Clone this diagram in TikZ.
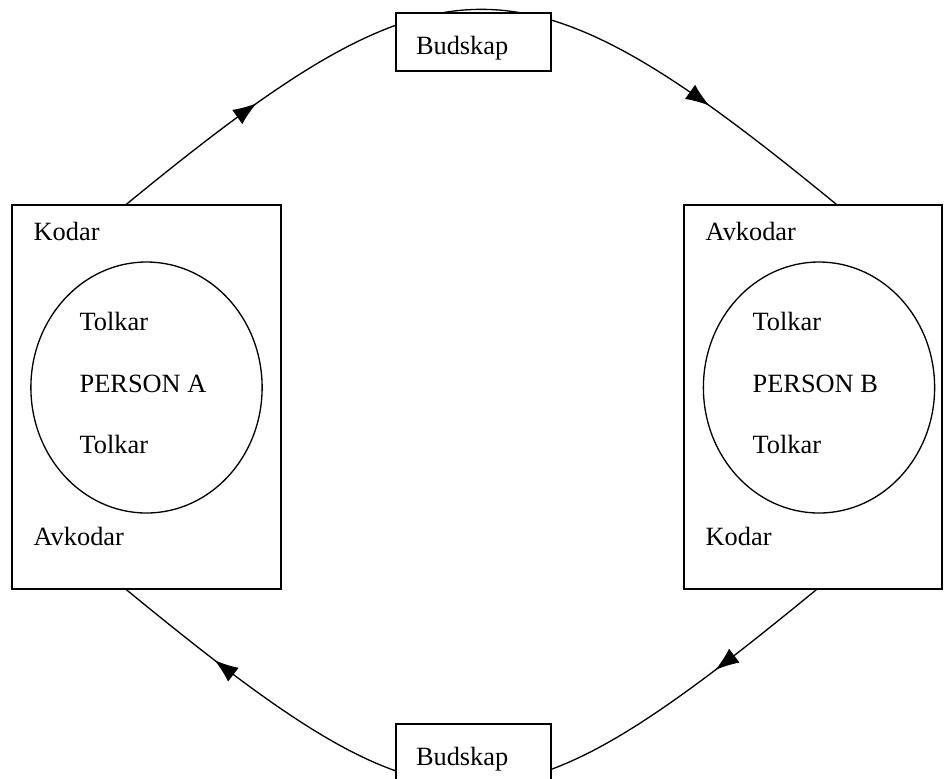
\documentclass[tikz,border=0pt]{standalone}
\usepackage{fontspec}
\setmainfont{Liberation Serif}
\usepackage{tikz}
\usetikzlibrary{arrows.meta,calc,decorations.markings,shapes.geometric}

\begin{document}
\begin{tikzpicture}[font=\fontsize{12pt}{14pt}\selectfont, line width=0.6pt,
  ram/.style={draw, rectangle, inner sep=0pt, minimum height=6.144cm},
  huvud/.style={draw, ellipse, inner sep=0pt, minimum width=3.7cm, minimum height=4.016cm},
  ord/.style={anchor=base west, inner sep=0pt},
  budbox/.style={draw, fill=white, text width=1.84cm, inner xsep=0.32cm, inner ysep=0pt, minimum height=0.928cm, text height=0.4cm, text depth=0pt, align=left},
  spets/.tip={Latex[length=0.38cm,width=0.28cm]},
  flode/.style 2 args={postaction={decorate}, decoration={markings,
    mark=at position #1 with {\arrow{spets}},
    mark=at position #2 with {\arrow{spets}}}}]
\useasboundingbox (0cm,0cm) rectangle (15.104cm,-12.448cm);
\node[ram, minimum width=4.304cm] (boxA) at (2.344cm,-6.352cm) {};
\node[ram, minimum width=4.128cm] (boxB) at (13.008cm,-6.352cm) {};
\node[huvud] (personA) at (2.344cm,-6.2cm) {};
\node[huvud] (personB) at (13.104cm,-6.2cm) {};
\node[ord] (kodA) at (0.528cm,-3.84cm) {Kodar};
\node[ord] (tolkA1) at (1.264cm,-5.28cm) {Tolkar};
\node[ord] (namnA) at (1.264cm,-6.272cm) {PERSON A};
\node[ord] (tolkA2) at (1.264cm,-7.248cm) {Tolkar};
\node[ord] (avkodA) at (0.528cm,-8.72cm) {Avkodar};
\node[ord] (avkodB) at (11.28cm,-3.84cm) {Avkodar};
\node[ord] (tolkB1) at (12.032cm,-5.28cm) {Tolkar};
\node[ord] (namnB) at (12.032cm,-6.272cm) {PERSON B};
\node[ord] (tolkB2) at (12.032cm,-7.248cm) {Tolkar};
\node[ord] (kodB) at (11.28cm,-8.72cm) {Kodar};
\coordinate (utA) at ($(boxA.north west)+(1.84cm,0)$);
\coordinate (inB) at ($(boxB.north west)+(2.448cm,0)$);
\coordinate (utB) at ($(boxB.south west)+(2.128cm,0)$);
\coordinate (inA) at ($(boxA.south west)+(1.84cm,0)$);
\draw[flode={0.2}{0.805}] (utA) .. controls +(5.072cm,4.16cm) and +(-5.072cm,4.16cm) .. (inB);
\draw[flode={0.16}{0.86}] (utB) .. controls +(-5.072cm,-4.16cm) and +(5.072cm,-4.16cm) .. (inA);
\node[budbox] (budUpp) at (7.576cm,-0.672cm) {Budskap};
\node[budbox] (budNer) at (7.576cm,-12.048cm) {Budskap};
\end{tikzpicture}
\end{document}
